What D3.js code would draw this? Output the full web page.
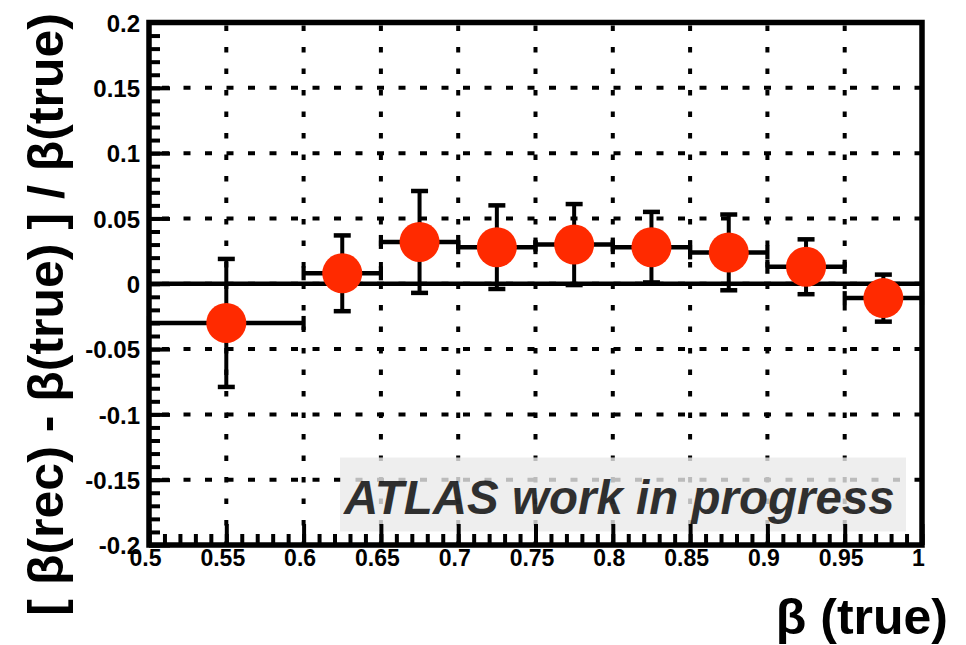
<!DOCTYPE html>
<html>
<head>
<meta charset="utf-8">
<script src="https://cdn.jsdelivr.net/npm/d3@7"></script>
<style>
  body { margin: 0; background: #fff; }
  svg text { font-family: "Liberation Sans", Arial, Helvetica, sans-serif; font-weight: bold; }
</style>
</head>
<body>
<div id="chart"></div>
<script>
// data
var binLo = [0.5, 0.6, 0.65, 0.7, 0.75, 0.8, 0.85, 0.9, 0.95];
var binHi = [0.6, 0.65, 0.7, 0.75, 0.8, 0.85, 0.9, 0.95, 1.0];
var xVal = [0.55, 0.625, 0.675, 0.725, 0.775, 0.825, 0.875, 0.925, 0.975];
var yVal = [-0.030, 0.008, 0.032, 0.028, 0.030, 0.028, 0.024, 0.013, -0.011];
var yErr = [0.049, 0.029, 0.039, 0.032, 0.031, 0.027, 0.029, 0.021, 0.018];

var xTicks = [0.5, 0.55, 0.6, 0.65, 0.7, 0.75, 0.8, 0.85, 0.9, 0.95, 1];
var xTickLabels = ["0.5", "0.55", "0.6", "0.65", "0.7", "0.75", "0.8", "0.85", "0.9", "0.95", "1"];
var yTicks = [-0.2, -0.15, -0.1, -0.05, 0, 0.05, 0.1, 0.15, 0.2];
var yTickLabels = ["-0.2", "-0.15", "-0.1", "-0.05", "0", "0.05", "0.1", "0.15", "0.2"];

var width = 966, height = 645;
var margin = { top: 22.5, right: 44, bottom: 100, left: 149 };
var w = width - margin.left - margin.right;
var h = height - margin.top - margin.bottom;

var svg = d3.select("#chart").append("svg")
  .attr("width", width)
  .attr("height", height);

var g = svg.append("g")
  .attr("transform", "translate(" + margin.left + "," + margin.top + ")");

var x = d3.scaleLinear().domain([0.5, 1]).range([0, w]);
var y = d3.scaleLinear().domain([-0.2, 0.2]).range([h, 0]);

//dotted grid at the inner major ticks
var gridX = xTicks.slice(1, -1);
var gridY = yTicks.slice(1, -1);
g.selectAll(".gx").data(gridX).enter().append("line")
  .attr("x1", function(d) { return x(d); })
  .attr("x2", function(d) { return x(d); })
  .attr("y1", 3).attr("y2", h)
  .style("stroke", "#000").style("stroke-width", 4)
  .style("stroke-dasharray", "5.5,16");
g.selectAll(".gy").data(gridY).enter().append("line")
  .attr("x1", 13).attr("x2", w)
  .attr("y1", function(d) { return y(d); })
  .attr("y2", function(d) { return y(d); })
  .style("stroke", "#000").style("stroke-width", 4)
  .style("stroke-dasharray", "7,14.5");

//solid line at zero
g.append("line")
  .attr("x1", x(0.5)).attr("x2", x(1))
  .attr("y1", y(0)).attr("y2", y(0))
  .style("stroke", "#000").style("stroke-width", 4.5);

var idx = d3.range(xVal.length);

//horizontal bars across the bins
g.selectAll(".hbar").data(idx).enter().append("line")
  .attr("x1", function(i) { return x(binLo[i]); })
  .attr("x2", function(i) { return x(binHi[i]); })
  .attr("y1", function(i) { return y(yVal[i]); })
  .attr("y2", function(i) { return y(yVal[i]); })
  .style("stroke", "#000").style("stroke-width", 4.5);
//bin edge caps
idx.forEach(function(i) {
  [binLo[i], binHi[i]].forEach(function(b) {
    g.append("line")
      .attr("x1", x(b)).attr("x2", x(b))
      .attr("y1", y(yVal[i]) - 7).attr("y2", y(yVal[i]) + 7)
      .style("stroke", "#000").style("stroke-width", 4.2);
  });
});

//vertical error bars
g.selectAll(".vbar").data(idx).enter().append("line")
  .attr("x1", function(i) { return x(xVal[i]); })
  .attr("x2", function(i) { return x(xVal[i]); })
  .attr("y1", function(i) { return y(yVal[i] + yErr[i]); })
  .attr("y2", function(i) { return y(yVal[i] - yErr[i]); })
  .style("stroke", "#000").style("stroke-width", 4);
idx.forEach(function(i) {
  [yVal[i] + yErr[i], yVal[i] - yErr[i]].forEach(function(v) {
    g.append("line")
      .attr("x1", x(xVal[i]) - 8.5).attr("x2", x(xVal[i]) + 8.5)
      .attr("y1", y(v)).attr("y2", y(v))
      .style("stroke", "#000").style("stroke-width", 4.5);
  });
});

//markers
g.selectAll(".pt").data(idx).enter().append("circle")
  .attr("cx", function(i) { return x(xVal[i]); })
  .attr("cy", function(i) { return y(yVal[i]); })
  .attr("r", 20)
  .style("fill", "#ff2a00");

//label box
g.append("rect")
  .attr("x", 340 - margin.left).attr("y", 457.5 - margin.top)
  .attr("width", 566).attr("height", 74)
  .style("fill", "rgb(234,234,234)").style("opacity", 0.8);
g.append("text")
  .text("ATLAS work in progress")
  .attr("x", 344 - margin.left).attr("y", 514 - margin.top)
  .style("font-size", "47.5px").style("font-style", "italic")
  .style("fill", "#000").style("opacity", 0.8);

//axes: minor ticks
var xMinor = d3.range(50, 101).map(function(d) { return d / 100; });
var yMinor = d3.range(-20, 21).map(function(d) { return d / 100; });

g.append("g").attr("transform", "translate(0," + h + ")")
  .call(d3.axisBottom(x).tickValues(xMinor).tickSize(-11).tickFormat(""))
  .call(function(s) { s.select(".domain").remove(); s.selectAll("line").style("stroke-width", 4); });
g.append("g")
  .call(d3.axisLeft(y).tickValues(yMinor).tickSize(-11).tickFormat(""))
  .call(function(s) { s.select(".domain").remove(); s.selectAll("line").style("stroke-width", 4); });

//axes: major ticks with labels
var xAxis = g.append("g").attr("transform", "translate(0," + h + ")")
  .call(d3.axisBottom(x).tickValues(xTicks).tickSize(-21)
    .tickFormat(function(d, i) { return xTickLabels[i]; }));
xAxis.select(".domain").remove();
xAxis.selectAll("line").style("stroke-width", 4);
xAxis.selectAll("text")
  .attr("y", 21).attr("dy", 0).attr("dx", -4)
  .style("font-size", "23px").style("fill", "#000");

var yAxis = g.append("g")
  .call(d3.axisLeft(y).tickValues(yTicks).tickSize(-21)
    .tickFormat(function(d, i) { return yTickLabels[i]; }));
yAxis.select(".domain").remove();
yAxis.selectAll("line").style("stroke-width", 4);
yAxis.selectAll("text")
  .attr("x", -9).attr("dy", "0.36em")
  .style("font-size", "24px").style("fill", "#000");

//frame
g.append("rect")
  .attr("x", 0).attr("y", 0).attr("width", w).attr("height", h)
  .style("fill", "none").style("stroke", "#000").style("stroke-width", 5.5);

//axis titles
svg.append("text")
  .text("β (true)")
  .attr("x", 948).attr("y", 634)
  .style("text-anchor", "end")
  .style("font-size", "50px").style("fill", "#000");
svg.append("text")
  .text("[ β(rec) - β(true) ] / β(true)")
  .attr("transform", "translate(63,13) rotate(-90)")
  .style("text-anchor", "end")
  .style("font-size", "50px").style("fill", "#000");
</script>
</body>
</html>
